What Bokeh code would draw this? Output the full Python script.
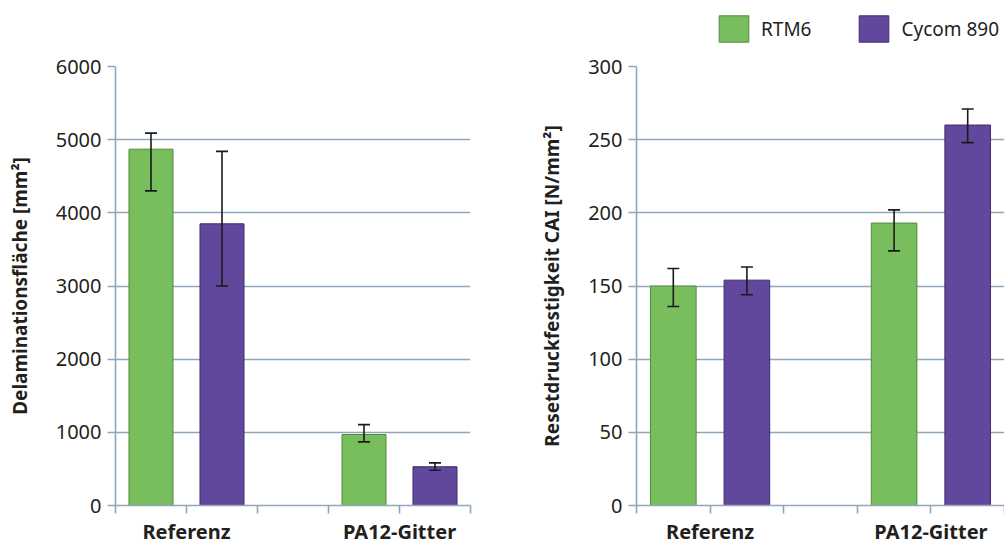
from bokeh.plotting import figure
from bokeh.models import (ColumnDataSource, Whisker, FixedTicker, Range1d, Legend,
                          LegendItem, TeeHead)
from bokeh.layouts import row, column
from bokeh.embed import file_html
from bokeh.resources import INLINE

# ---------------- data ----------------
groups = ["Referenz", "PA12-Gitter"]
series = ["RTM6", "Cycom 890"]

delam_rtm6 = [4870, 970]
delam_rtm6_lo = [4300, 870]
delam_rtm6_hi = [5090, 1105]
delam_cycom = [3850, 530]
delam_cycom_lo = [3000, 482]
delam_cycom_hi = [4840, 583]

cai_rtm6 = [150, 193]
cai_rtm6_lo = [136, 174]
cai_rtm6_hi = [162, 202]
cai_cycom = [154, 260]
cai_cycom_lo = [144, 248]
cai_cycom_hi = [163, 271]

delam_ticks = [0, 1000, 2000, 3000, 4000, 5000, 6000]
cai_ticks = [0, 50, 100, 150, 200, 250, 300]

delam_title = "Delaminationsfläche [mm²]"
cai_title = "Resetdruckfestigkeit CAI [N/mm²]"

# ---------------- style ----------------
GREEN = "#78be5d"
GREEN_LINE = "#4f8a3c"
PURPLE = "#62489c"
PURPLE_LINE = "#3e2c70"
GRID = "#8ea8ba"
TEXT = "#231f20"
FONT = "Noto Sans"

SLOTS_PER_GROUP = 3
n_slots = SLOTS_PER_GROUP * len(groups) - 1

FIG_H = 547
TOP = 66
LEG_H = 52


def make_panel(rtm, rtm_lo, rtm_hi, cyc, cyc_lo, cyc_hi, ticks, title,
               width, height, b_left, b_right, b_top):
    p = figure(width=width, height=height, output_backend="svg", toolbar_location=None,
               x_range=Range1d(0, n_slots), y_range=Range1d(ticks[0], ticks[-1]),
               min_border_left=b_left, min_border_right=b_right,
               min_border_top=b_top, min_border_bottom=42)
    p.outline_line_color = None
    p.background_fill_color = "white"
    p.border_fill_color = "white"

    base = [SLOTS_PER_GROUP * i for i in range(len(groups))]
    x_r = [b + 0.5 for b in base]
    x_c = [b + 1.5 for b in base]

    s_r = ColumnDataSource(dict(x=x_r, top=rtm, lo=rtm_lo, hi=rtm_hi))
    s_c = ColumnDataSource(dict(x=x_c, top=cyc, lo=cyc_lo, hi=cyc_hi))

    p.vbar(x="x", top="top", width=0.62, bottom=0, source=s_r,
           fill_color=GREEN, line_color=GREEN_LINE, line_width=1)
    p.vbar(x="x", top="top", width=0.62, bottom=0, source=s_c,
           fill_color=PURPLE, line_color=PURPLE_LINE, line_width=1)

    for s in (s_r, s_c):
        w = Whisker(source=s, base="x", upper="hi", lower="lo",
                    line_color="#1a1a1a", line_width=1.6, level="annotation",
                    upper_head=TeeHead(size=12, line_color="#1a1a1a", line_width=1.6),
                    lower_head=TeeHead(size=12, line_color="#1a1a1a", line_width=1.6))
        p.add_layout(w)

    # axes
    p.xgrid.visible = False
    p.ygrid.ticker = FixedTicker(ticks=ticks)
    p.ygrid.grid_line_color = GRID
    p.ygrid.grid_line_width = 1.6

    ya = p.yaxis[0]
    ya.ticker = FixedTicker(ticks=ticks)
    ya.axis_line_color = GRID
    ya.axis_line_width = 1.6
    ya.major_tick_line_color = GRID
    ya.major_tick_line_width = 1.6
    ya.major_tick_out = 8
    ya.major_tick_in = 0
    ya.minor_tick_line_color = None
    ya.major_label_text_font = FONT
    ya.major_label_text_font_size = "20px"
    ya.major_label_text_color = TEXT
    ya.major_label_standoff = 6
    ya.axis_label = title
    ya.axis_label_text_font = FONT
    ya.axis_label_text_font_style = "bold"
    ya.axis_label_text_font_size = "19px"
    ya.axis_label_text_color = TEXT
    ya.axis_label_standoff = 20

    xa = p.xaxis[0]
    xa.ticker = FixedTicker(ticks=list(range(n_slots + 1)))
    overrides = {i: "" for i in range(n_slots + 1)}
    for i, g in enumerate(groups):
        overrides[SLOTS_PER_GROUP * i + 1] = g
    xa.major_label_overrides = overrides
    xa.axis_line_color = GRID
    xa.axis_line_width = 1.6
    xa.major_tick_line_color = GRID
    xa.major_tick_line_width = 1.6
    xa.major_tick_out = 8
    xa.major_tick_in = 0
    xa.minor_tick_line_color = None
    xa.major_label_text_font = FONT
    xa.major_label_text_font_style = "bold"
    xa.major_label_text_font_size = "20px"
    xa.major_label_text_color = TEXT
    xa.major_label_standoff = 4
    return p


p1 = make_panel(delam_rtm6, delam_rtm6_lo, delam_rtm6_hi,
                delam_cycom, delam_cycom_lo, delam_cycom_hi,
                delam_ticks, delam_title, 520, FIG_H, 115, 50, TOP)
p2 = make_panel(cai_rtm6, cai_rtm6_lo, cai_rtm6_hi,
                cai_cycom, cai_cycom_lo, cai_cycom_hi,
                cai_ticks, cai_title, 484, FIG_H - LEG_H, 116, 0, TOP - LEG_H)

# legend strip above the right panel (proxy renderers are hidden)
lf = figure(width=484, height=LEG_H, output_backend="svg", toolbar_location=None,
            x_range=Range1d(0, n_slots), y_range=Range1d(0, 1),
            x_axis_type=None, y_axis_type=None, min_border=0)
lf.outline_line_color = None
lf.xgrid.visible = False
lf.ygrid.visible = False
lg_r = ColumnDataSource(dict(x=[0.5, 3.5], top=cai_rtm6))
lg_c = ColumnDataSource(dict(x=[1.5, 4.5], top=cai_cycom))
lr1 = lf.vbar(x="x", top="top", width=0.62, bottom=0, source=lg_r,
              fill_color=GREEN, line_color=GREEN_LINE, line_width=1, visible=False)
lr2 = lf.vbar(x="x", top="top", width=0.62, bottom=0, source=lg_c,
              fill_color=PURPLE, line_color=PURPLE_LINE, line_width=1, visible=False)
lg = Legend(items=[LegendItem(label=series[0], renderers=[lr1]),
                   LegendItem(label=series[1], renderers=[lr2])],
            orientation="horizontal", location=(79, LEG_H - 45),
            glyph_width=37, glyph_height=33, label_standoff=9,
            spacing=44, padding=0, margin=0,
            label_text_font=FONT, label_text_font_size="19px",
            label_text_color=TEXT, border_line_color=None,
            background_fill_alpha=0, inactive_fill_alpha=0)
lf.add_layout(lg)

layout = row(p1, column(lf, p2))
open("out.html", "w").write(file_html(layout, INLINE))
